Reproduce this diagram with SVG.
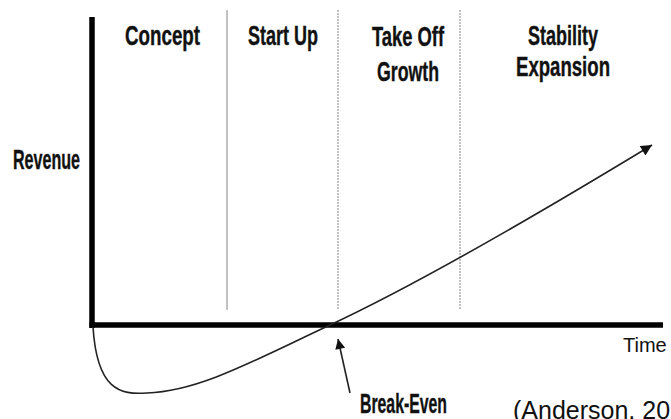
<svg xmlns="http://www.w3.org/2000/svg" width="671" height="419" viewBox="0 0 671 419">
<style>
.lbl{font-family:"Liberation Sans",Arial,sans-serif;font-weight:bold;font-size:28px;fill:#111;stroke:#111;stroke-width:0.4;}
.reg{font-family:"Liberation Sans",Arial,sans-serif;font-size:20px;fill:#111;}
.axis{stroke:#000;stroke-width:5.5;fill:none;}
.div{stroke:#999;stroke-width:1.2;fill:none;}
.dot{stroke:#999;stroke-width:1.2;stroke-dasharray:2 1;fill:none;}
.curve{stroke:#222;stroke-width:1.6;fill:none;}
</style>
<defs>
<marker id="ah" viewBox="0 0 10 10" refX="10" refY="5" markerUnits="userSpaceOnUse" markerWidth="14" markerHeight="11" orient="auto">
<path d="M0,0 L10,5 L0,10 z" fill="#111"/>
</marker>
<marker id="ah2" viewBox="0 0 10 10" refX="10" refY="5" markerUnits="userSpaceOnUse" markerWidth="13" markerHeight="10" orient="auto">
<path d="M0,0 L10,5 L0,10 z" fill="#111"/>
</marker>
</defs>
<rect width="671" height="419" fill="#fff"/>
<g id="dividers">
<line class="div" x1="227" y1="10" x2="227" y2="310"/>
<line class="dot" x1="338" y1="10" x2="338" y2="310"/>
<line class="dot" x1="460" y1="10" x2="460" y2="310"/>
</g>
<g id="axes">
<line class="axis" x1="92" y1="17" x2="92" y2="328"/>
<line class="axis" x1="89.5" y1="325" x2="663" y2="325"/>
</g>
<g id="connectors">
<path id="revenue-curve" class="curve" d="M93,327 C97,390 120,395 147,393 C200,391 255,360 330,325 C420,283 540,213 652,145" marker-end="url(#ah)"/>
<line id="breakeven-arrow" class="curve" x1="350" y1="393" x2="338" y2="339" marker-end="url(#ah2)"/>
</g>
<g id="concept"><text class="lbl" x="125" y="45" textLength="75" lengthAdjust="spacingAndGlyphs">Concept</text></g>
<g id="startup"><text class="lbl" x="248" y="45" textLength="70" lengthAdjust="spacingAndGlyphs">Start Up</text></g>
<g id="takeoff">
<text class="lbl" x="372" y="46" textLength="72" lengthAdjust="spacingAndGlyphs">Take Off</text>
<text class="lbl" x="377" y="81" textLength="62" lengthAdjust="spacingAndGlyphs">Growth</text>
</g>
<g id="stability">
<text class="lbl" x="528" y="45" textLength="70" lengthAdjust="spacingAndGlyphs">Stability</text>
<text class="lbl" x="516" y="76" textLength="94" lengthAdjust="spacingAndGlyphs">Expansion</text>
</g>
<g id="revenue"><text class="lbl" x="13" y="169" textLength="67" lengthAdjust="spacingAndGlyphs">Revenue</text></g>
<g id="time"><text class="reg" x="623" y="352">Time</text></g>
<g id="breakeven"><text class="lbl" x="360" y="413" textLength="87" lengthAdjust="spacingAndGlyphs">Break-Even</text></g>
<g id="citation"><text class="reg" x="513" y="419" style="font-size:25px">(Anderson, 20</text></g>
</svg>
